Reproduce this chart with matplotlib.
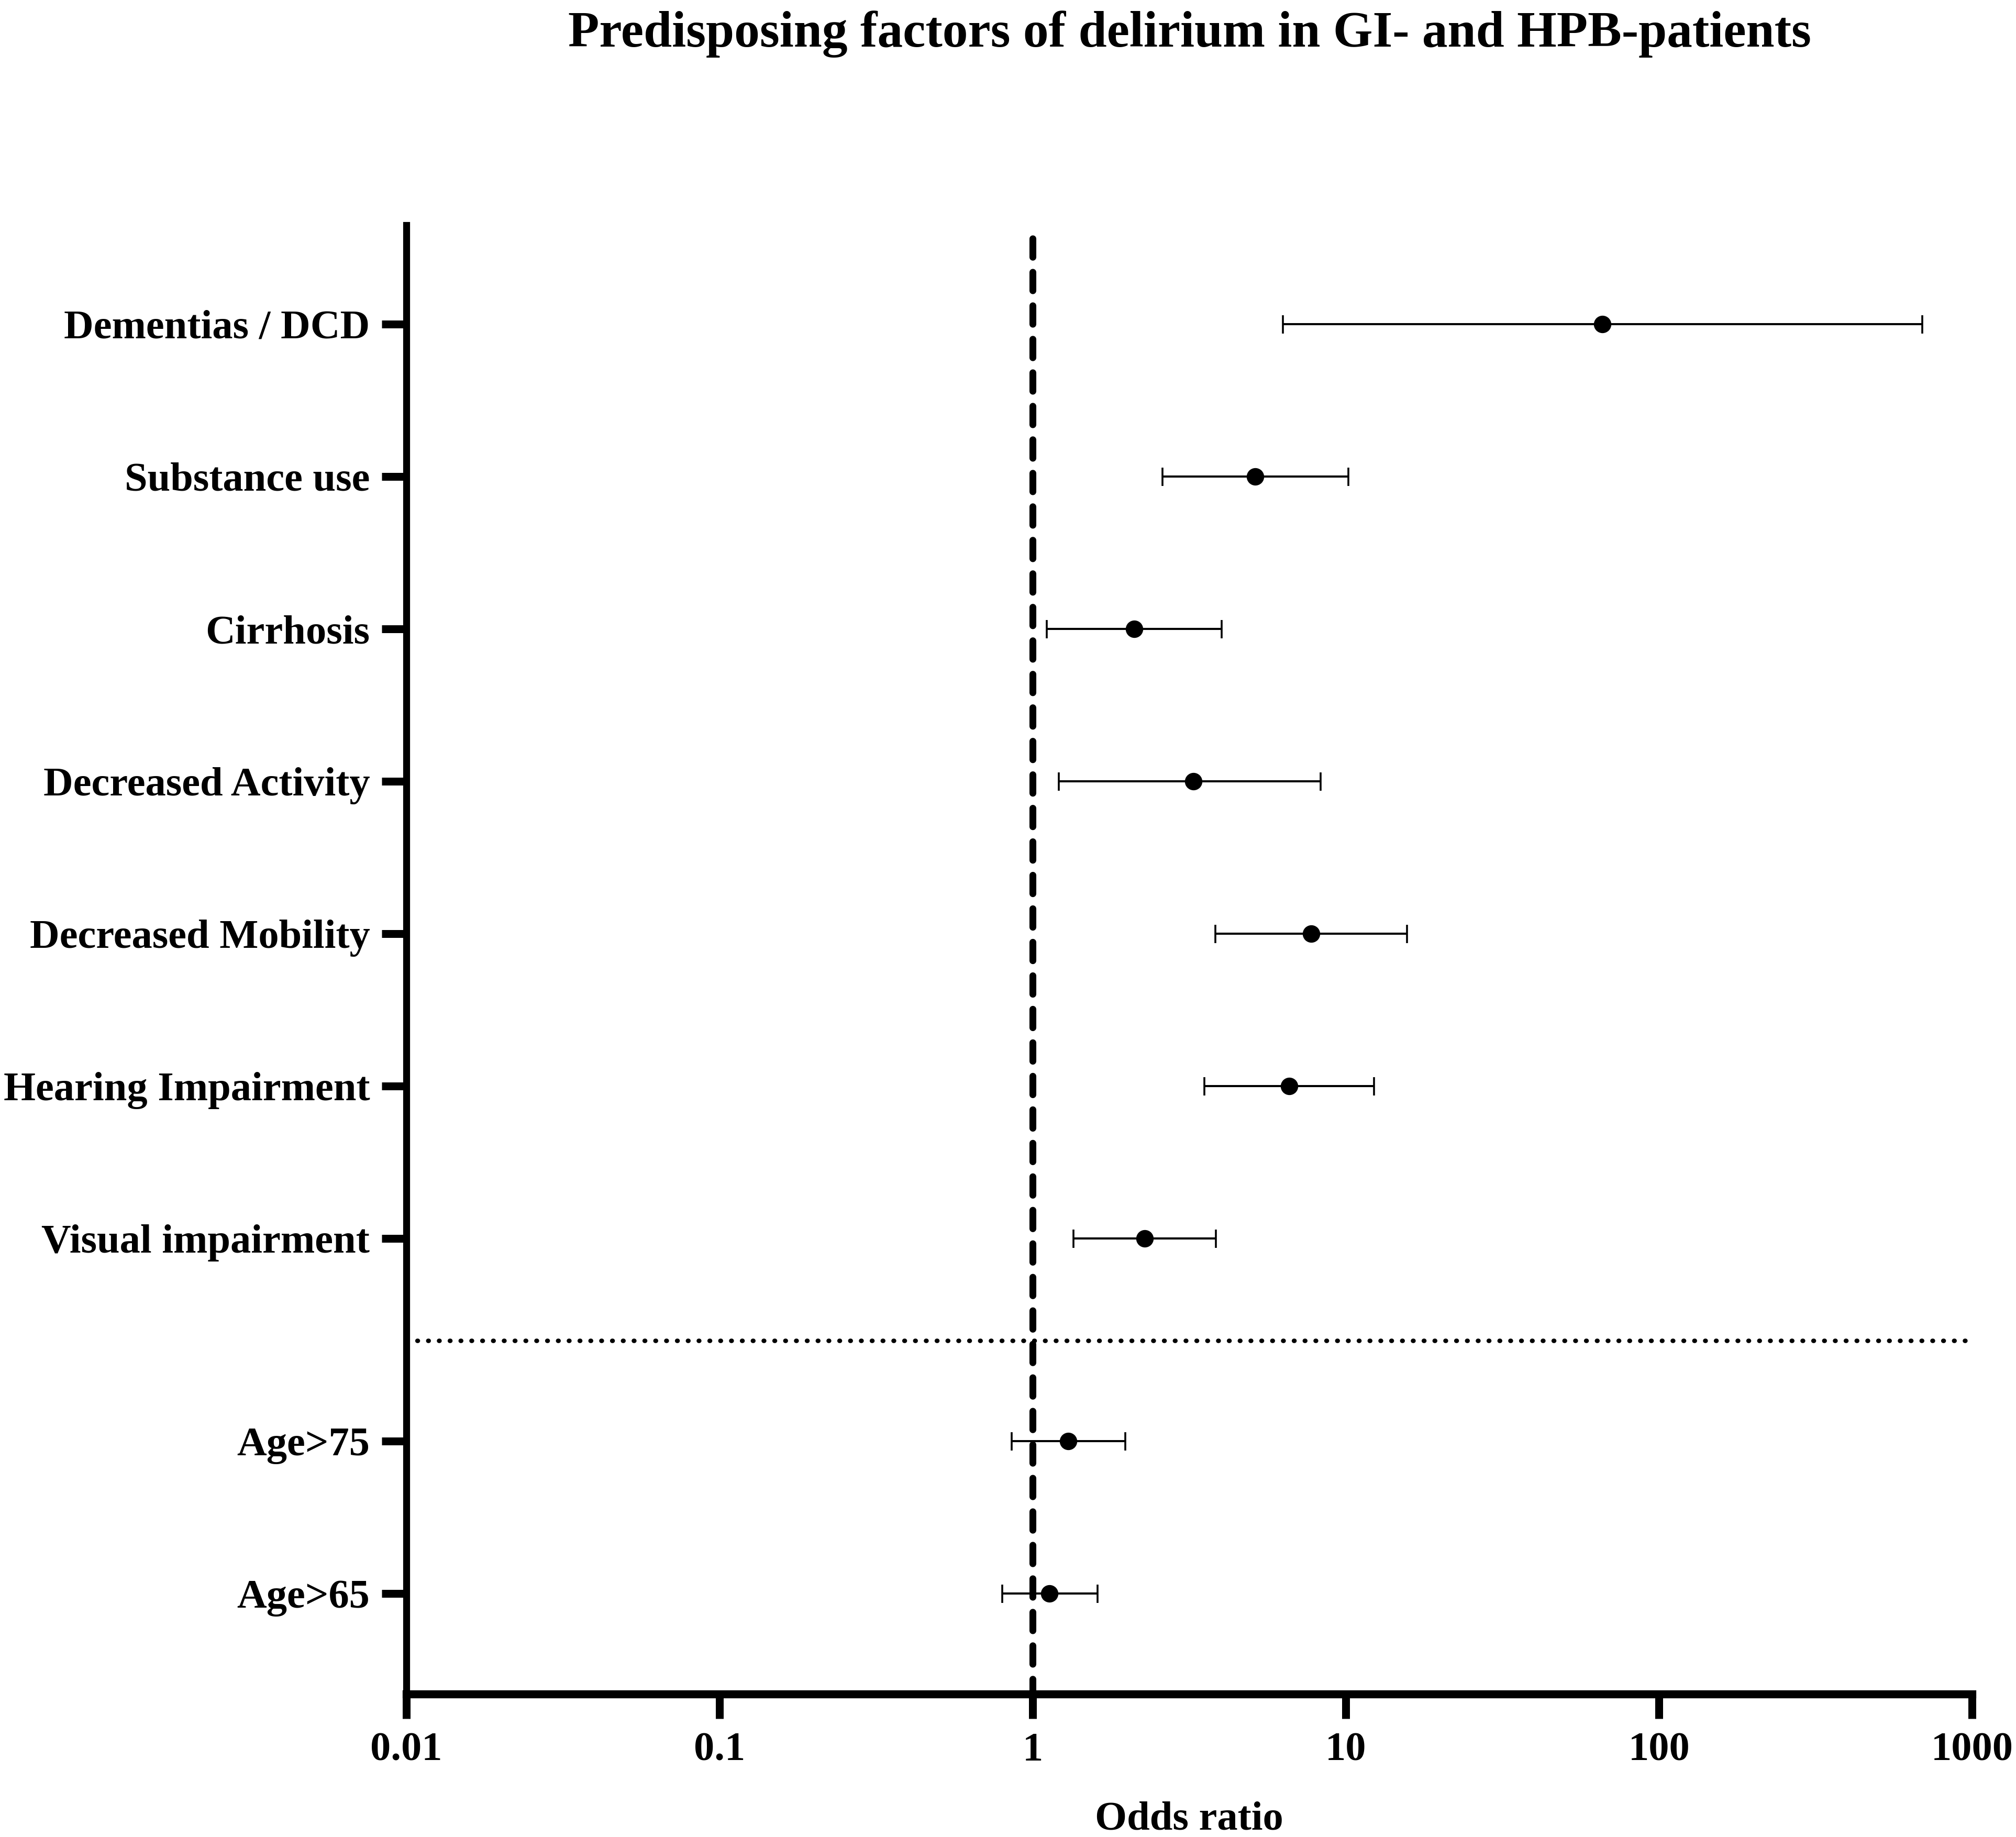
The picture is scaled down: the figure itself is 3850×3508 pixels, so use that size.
import matplotlib
matplotlib.use("Agg")
import matplotlib.pyplot as plt
import numpy as np

# forest plot data (odds ratio with 95% CI)
factors = ['Dementias / DCD', 'Substance use', 'Cirrhosis', 'Decreased Activity',
           'Decreased Mobility', 'Hearing Impairment', 'Visual impairment',
           'Age>75', 'Age>65']
odds = [65.9, 5.14, 2.11, 3.26, 7.76, 6.59, 2.28, 1.30, 1.13]
ci_low = [6.29, 2.60, 1.11, 1.21, 3.83, 3.53, 1.35, 0.856, 0.80]
ci_high = [693, 10.2, 4.02, 8.3, 15.7, 12.3, 3.84, 1.98, 1.61]
xticks = [0.01, 0.1, 1, 10, 100, 1000]
xtick_labels = ['0.01', '0.1', '1', '10', '100', '1000']

# row positions (top group shifted a third of a row above the age rows)
rows = [9.33, 8.33, 7.33, 6.33, 5.33, 4.33, 3.33, 2.0, 1.0]
sep_row = 2.66

plt.rcParams['font.family'] = ['Liberation Serif', 'DejaVu Serif']
plt.rcParams['font.weight'] = 'bold'

DPI = 100
fig = plt.figure(figsize=(38.5, 35.08), dpi=DPI)
ax = fig.add_axes([0.2015, 0.0777, 0.9783 - 0.2015, 0.8775 - 0.0777])

odds_a = np.array(odds)
err = np.vstack([odds_a - np.array(ci_low), np.array(ci_high) - odds_a])
ax.errorbar(odds, rows, xerr=err, fmt='o', color='black', ms=23,
            elinewidth=2.9, capsize=12.6, capthick=2.6, zorder=3)

ax.axvline(1, color='black', lw=9.4, linestyle=(0.5, (2.7, 2.2)),
           dash_capstyle='round', zorder=2)
ax.axhline(sep_row, color='black', lw=6.2, linestyle=(0, (0.1, 2.3)),
           dash_capstyle='round', zorder=2)

ax.set_xscale('log')
ax.set_xlim(0.01, 1000)
ax.set_ylim(0.34, 9.98)
ax.set_xticks(xticks)
ax.set_xticklabels(xtick_labels)
ax.xaxis.set_minor_locator(matplotlib.ticker.NullLocator())
ax.set_yticks(rows)
ax.set_yticklabels(factors)

for side in ['top', 'right']:
    ax.spines[side].set_visible(False)
ax.spines['left'].set_linewidth(9.5)
ax.spines['bottom'].set_linewidth(11)
ax.tick_params(axis='both', length=34, width=10.8, labelsize=56.5, color='black')
ax.tick_params(axis='x', pad=18)
ax.tick_params(axis='y', pad=16)

ax.set_xlabel('Odds ratio', fontsize=56.5, fontweight='bold', labelpad=44)
fig.text(0.59, 0.9745, 'Predisposing factors of delirium in GI- and HPB-patients',
         ha='center', va='baseline', fontsize=70, fontweight='bold')

fig.savefig('out.png', dpi=DPI)
